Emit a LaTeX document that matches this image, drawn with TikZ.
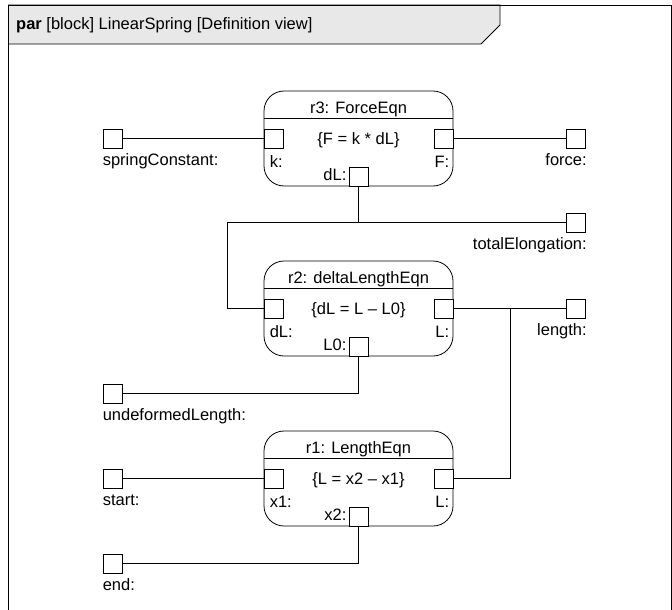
\documentclass[tikz,border=0pt]{standalone}
\usepackage{fontspec}
\setmainfont{Liberation Sans}
\usetikzlibrary{positioning}
\begin{document}
\begin{tikzpicture}[x=1pt,y=-1pt,
        blk/.style={draw,rounded corners=20pt,minimum width=189pt,minimum height=95pt,inner sep=0pt,line width=0.8pt},
        port/.style={draw,fill=white,minimum size=19pt,inner sep=0pt,line width=0.8pt},
        lbl/.style={inner sep=0pt,font=\fontsize{16.5}{19}\selectfont},
        wire/.style={line width=0.8pt}]
    \useasboundingbox (0,0) rectangle (672,610);
    \draw[wire,fill=black!9] (8,5) -- (500,5) -- (500,25) -- (481,44) -- (8,44);
    \draw[wire] (8,610) -- (8,5) -- (671,5) -- (671,610);
    \node[lbl,anchor=base west] (title) at (16,30) {\textbf{par} [block] LinearSpring [Definition view]};
    \node[blk] (r3) at (358.5,138.5) {};
    \draw[wire] ([yshift=-28pt]r3.north west) -- ([yshift=-28pt]r3.north east);
    \node[lbl,anchor=base] at ([yshift=-22.5pt]r3.north) {r3: ForceEqn};
    \node[lbl,anchor=base] at ([yshift=-5.5pt]r3.center) {\{F = k * dL\}};
    \node[port,anchor=west] (r3k) at (r3.west) {};
    \node[port,anchor=east] (r3F) at (r3.east) {};
    \node[port,anchor=south] (r3dL) at (r3.south) {};
    \node[lbl,anchor=base west] at ([xshift=6pt,yshift=-19.5pt]r3k.south west) {k:};
    \node[lbl,anchor=base east] at ([xshift=-4pt,yshift=-19.5pt]r3F.south east) {F:};
    \node[lbl,anchor=base east] at ([xshift=-2pt,yshift=5.5pt]r3dL.south west) {dL:};
    \node[blk] (r2) at (358.5,308.5) {};
    \draw[wire] ([yshift=-28pt]r2.north west) -- ([yshift=-28pt]r2.north east);
    \node[lbl,anchor=base] at ([yshift=-22.5pt]r2.north) {r2: deltaLengthEqn};
    \node[lbl,anchor=base] at ([yshift=-5.5pt]r2.center) {\{dL = L – L0\}};
    \node[port,anchor=west] (r2dL) at (r2.west) {};
    \node[port,anchor=east] (r2L) at (r2.east) {};
    \node[port,anchor=south] (r2L0) at (r2.south) {};
    \node[lbl,anchor=base west] at ([xshift=6pt,yshift=-19.5pt]r2dL.south west) {dL:};
    \node[lbl,anchor=base east] at ([xshift=-4pt,yshift=-19.5pt]r2L.south east) {L:};
    \node[lbl,anchor=base east] at ([xshift=-2pt,yshift=5.5pt]r2L0.south west) {L0:};
    \node[blk] (r1) at (358.5,478.5) {};
    \draw[wire] ([yshift=-28pt]r1.north west) -- ([yshift=-28pt]r1.north east);
    \node[lbl,anchor=base] at ([yshift=-22.5pt]r1.north) {r1: LengthEqn};
    \node[lbl,anchor=base] at ([yshift=-5.5pt]r1.center) {\{L = x2 – x1\}};
    \node[port,anchor=west] (r1x1) at (r1.west) {};
    \node[port,anchor=east] (r1L) at (r1.east) {};
    \node[port,anchor=south] (r1x2) at (r1.south) {};
    \node[lbl,anchor=base west] at ([xshift=6pt,yshift=-19.5pt]r1x1.south west) {x1:};
    \node[lbl,anchor=base east] at ([xshift=-4pt,yshift=-19.5pt]r1L.south east) {L:};
    \node[lbl,anchor=base east] at ([xshift=-2pt,yshift=5.5pt]r1x2.south west) {x2:};
    \node[port] (sc) at (112.5,138.5) {};
    \node[lbl,anchor=base west] at ([yshift=-17pt]sc.south west) {springConstant:};
    \node[port] (force) at (576,138.5) {};
    \node[lbl,anchor=base east] at ([xshift=1pt,yshift=-17pt]force.south east) {force:};
    \node[port] (te) at (576,222.5) {};
    \node[lbl,anchor=base east] at ([xshift=1pt,yshift=-17pt]te.south east) {totalElongation:};
    \node[port] (len) at (576,308.5) {};
    \node[lbl,anchor=base east] at ([xshift=1pt,yshift=-17pt]len.south east) {length:};
    \node[port] (ul) at (112.5,393.5) {};
    \node[lbl,anchor=base west] at ([yshift=-17pt]ul.south west) {undeformedLength:};
    \node[port] (st) at (112.5,478.5) {};
    \node[lbl,anchor=base west] at ([yshift=-17pt]st.south west) {start:};
    \node[port] (en) at (112.5,563.5) {};
    \node[lbl,anchor=base west] at ([yshift=-17pt]en.south west) {end:};
    \coordinate (bend) at (227,222.5);
    \coordinate (jn) at (510.5,308.5);
    \draw[wire] (sc) -- (r3k);
    \draw[wire] (r3F) -- (force);
    \draw[wire] (r3dL.south) |- (te.west);
    \draw[wire] (r3dL |- te) -- (bend) |- (r2dL.west);
    \draw[wire] (r2L) -- (len);
    \draw[wire] (jn) |- (r1L.east);
    \draw[wire] (r2L0.south) |- (ul.east);
    \draw[wire] (st) -- (r1x1);
    \draw[wire] (r1x2.south) |- (en.east);
\end{tikzpicture}
\end{document}
